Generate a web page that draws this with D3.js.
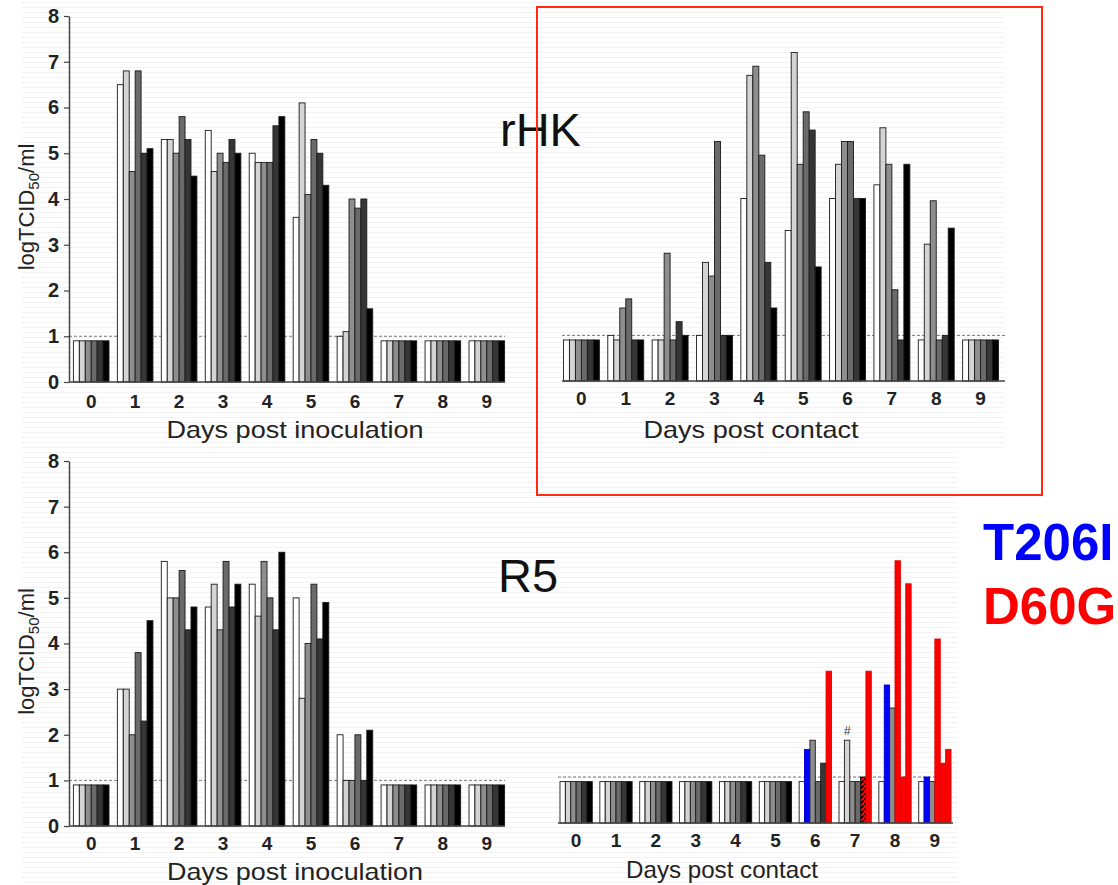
<!DOCTYPE html>
<html>
<head>
<meta charset="utf-8">
<script src="https://cdn.jsdelivr.net/npm/d3@7"></script>
<style>
  body { margin: 0; background: #fff; }
  text { font-family: "Liberation Sans", Arial, Helvetica, sans-serif; }
</style>
</head>
<body>
<script>
// ---- data (log TCID50/ml, 6 animals per day) ----
const days = ['0', '1', '2', '3', '4', '5', '6', '7', '8', '9'];
const yTicks = [0, 1, 2, 3, 4, 5, 6, 7, 8];

const rhkInoc = [
  [0.9, 0.9, 0.9, 0.9, 0.9, 0.9],
  [6.5, 6.8, 4.6, 6.8, 5.0, 5.1],
  [5.3, 5.3, 5.0, 5.8, 5.3, 4.5],
  [5.5, 4.6, 5.0, 4.8, 5.3, 5.0],
  [5.0, 4.8, 4.8, 4.8, 5.6, 5.8],
  [3.6, 6.1, 4.1, 5.3, 5.0, 4.3],
  [1.0, 1.1, 4.0, 3.8, 4.0, 1.6],
  [0.9, 0.9, 0.9, 0.9, 0.9, 0.9],
  [0.9, 0.9, 0.9, 0.9, 0.9, 0.9],
  [0.9, 0.9, 0.9, 0.9, 0.9, 0.9]
];

const rhkContact = [
  [0.9, 0.9, 0.9, 0.9, 0.9, 0.9],
  [1.0, 0.9, 1.6, 1.8, 0.9, 0.9],
  [0.9, 0.9, 2.8, 0.9, 1.3, 1.0],
  [1.0, 2.6, 2.3, 5.25, 1.0, 1.0],
  [4.0, 6.7, 6.9, 4.95, 2.6, 1.6],
  [3.3, 7.2, 4.75, 5.9, 5.5, 2.5],
  [4.0, 4.75, 5.25, 5.25, 4.0, 4.0],
  [4.3, 5.55, 4.75, 2.0, 0.9, 4.75],
  [0.9, 3.0, 3.95, 0.9, 1.0, 3.35],
  [0.9, 0.9, 0.9, 0.9, 0.9, 0.9]
];

const r5Inoc = [
  [0.9, 0.9, 0.9, 0.9, 0.9, 0.9],
  [3.0, 3.0, 2.0, 3.8, 2.3, 4.5],
  [5.8, 5.0, 5.0, 5.6, 4.3, 4.8],
  [4.8, 5.3, 4.3, 5.8, 4.8, 5.3],
  [5.3, 4.6, 5.8, 5.0, 4.3, 6.0],
  [5.0, 2.8, 4.0, 5.3, 4.1, 4.9],
  [2.0, 1.0, 1.0, 2.0, 1.0, 2.1],
  [0.9, 0.9, 0.9, 0.9, 0.9, 0.9],
  [0.9, 0.9, 0.9, 0.9, 0.9, 0.9],
  [0.9, 0.9, 0.9, 0.9, 0.9, 0.9]
];

const r5Contact = [
  [0.9, 0.9, 0.9, 0.9, 0.9, 0.9],
  [0.9, 0.9, 0.9, 0.9, 0.9, 0.9],
  [0.9, 0.9, 0.9, 0.9, 0.9, 0.9],
  [0.9, 0.9, 0.9, 0.9, 0.9, 0.9],
  [0.9, 0.9, 0.9, 0.9, 0.9, 0.9],
  [0.9, 0.9, 0.9, 0.9, 0.9, 0.9],
  [0.9, 1.6, 1.8, 0.9, 1.3, 3.3],
  [0.9, 1.8, 0.9, 0.9, 1.0, 3.3],
  [0.9, 3.0, 2.5, 5.7, 1.0, 5.2],
  [0.9, 1.0, 0.9, 4.0, 1.3, 1.6]
];

// mutation found in the contact animal (R5 only)
const r5Mutation = [
  [], [], [], [], [], [],
  [null, 'T206I', null, null, null, 'D60G'],
  [null, null, null, null, 'mix', 'D60G'],
  [null, 'T206I', null, 'D60G', 'D60G', 'D60G'],
  [null, 'T206I', null, 'D60G', 'D60G', 'D60G']
];
const r5Marks = [{ day: 7, animal: 1, label: '#' }];

// ---- styles ----
const animalFill = ['#ffffff', '#d4d4d4', '#8e8e8e', '#6a6a6a', '#363636', '#000000'];
const mutFill = { T206I: '#0000ff', D60G: '#ff0000', mix: 'url(#hatch)' };
const font = '"Liberation Sans", Arial, Helvetica, sans-serif';

const svg = d3.select('body').append('svg')
  .attr('width', 1118)
  .attr('height', 885);

const defs = svg.append('defs');
const hatch = defs.append('pattern')
  .attr('id', 'hatch')
  .attr('patternUnits', 'userSpaceOnUse')
  .attr('width', 5).attr('height', 5);
hatch.append('rect').attr('width', 5).attr('height', 5).attr('fill', '#ff0000');
hatch.append('path').attr('d', 'M0,5 L5,0').attr('stroke', '#000').attr('stroke-width', 1.6);

// faint scan stripes in the background
svg.append('g').selectAll('line')
  .data(d3.range(2, 885, 5)).enter()
  .append('line')
  .attr('x1', 22)
  .attr('x2', d => d < 450 ? 1005 : 958)
  .attr('y1', d => d + 0.5)
  .attr('y2', d => d + 0.5)
  .attr('stroke', '#f3f3f3')
  .attr('stroke-width', 1);

const panels = [
  { data: rhkInoc, xr: [69, 509], axisX: [69, 505], yr: [382, 16], yAxis: true,
    title: 'Days post inoculation', titleX: 295, titleY: 438, titleW: 257, tickDy: 26 },
  { data: rhkContact, xr: [559, 1003], axisX: [562, 1005], yr: [381, 16], yAxis: false,
    title: 'Days post contact', titleX: 751, titleY: 438, titleW: 215, tickDy: 24 },
  { data: r5Inoc, xr: [69, 509], axisX: [69, 505], yr: [826, 461], yAxis: true,
    title: 'Days post inoculation', titleX: 295, titleY: 880, titleW: 256, tickDy: 24 },
  { data: r5Contact, xr: [556, 955], axisX: [558, 953], yr: [823, 455], yAxis: false,
    title: 'Days post contact', titleX: 722, titleY: 878, titleW: 192, tickDy: 24,
    mutation: r5Mutation, marks: r5Marks }
];

panels.forEach(drawPanel);

function drawPanel(p) {
  const g = svg.append('g');
  const x = d3.scaleBand().domain(days).range(p.xr).paddingInner(0.19).paddingOuter(0.1);
  const xa = d3.scaleBand().domain(d3.range(6)).range([0, x.bandwidth()]);
  const y = d3.scaleLinear().domain([0, 8]).range(p.yr);

  // dashed detection limit
  g.append('line')
    .attr('x1', p.axisX[0]).attr('x2', p.axisX[1])
    .attr('y1', y(1)).attr('y2', y(1))
    .attr('stroke', '#777').attr('stroke-width', 1)
    .attr('stroke-dasharray', '3,2');

  const groups = g.selectAll('g.day')
    .data(p.data).enter()
    .append('g')
    .attr('transform', (d, i) => `translate(${x(days[i])},0)`);

  groups.each(function(vals, di) {
    d3.select(this).selectAll('rect')
      .data(vals).enter()
      .append('rect')
      .attr('x', (d, i) => xa(i))
      .attr('width', xa.bandwidth())
      .attr('y', d => y(d))
      .attr('height', d => y(0) - y(d))
      .attr('fill', (d, i) => {
        const m = p.mutation && p.mutation[di][i];
        return m ? mutFill[m] : animalFill[i];
      })
      .attr('stroke', (d, i) => {
        const m = p.mutation && p.mutation[di][i];
        if (m === 'T206I') return '#0000cc';
        if (m === 'D60G') return '#e00000';
        return '#1a1a1a';
      })
      .attr('stroke-width', 0.9);
  });

  if (p.marks) {
    g.selectAll('text.mark')
      .data(p.marks).enter()
      .append('text')
      .attr('x', d => x(days[d.day]) + xa(d.animal) + xa.bandwidth() / 2)
      .attr('y', d => y(p.data[d.day][d.animal]) - 5)
      .attr('text-anchor', 'middle')
      .attr('font-size', 12)
      .attr('font-style', 'italic')
      .attr('fill', '#333')
      .text(d => d.label);
  }

  // x axis
  g.append('line')
    .attr('x1', p.axisX[0]).attr('x2', p.axisX[1])
    .attr('y1', y(0)).attr('y2', y(0))
    .attr('stroke', '#444').attr('stroke-width', 1.5);

  const xAxis = g.append('g')
    .attr('transform', `translate(0,${y(0)})`)
    .call(d3.axisBottom(x).tickSize(0).tickPadding(0));
  xAxis.select('.domain').remove();
  xAxis.selectAll('text')
    .attr('y', p.tickDy).attr('dy', 0)
    .attr('font-family', font)
    .attr('font-size', 19)
    .attr('font-weight', 'bold')
    .attr('fill', '#222');

  g.append('text')
    .attr('x', p.titleX).attr('y', p.titleY)
    .attr('text-anchor', 'middle')
    .attr('font-size', 24)
    .attr('fill', '#222')
    .attr('textLength', p.titleW)
    .attr('lengthAdjust', 'spacingAndGlyphs')
    .text(p.title);

  if (p.yAxis) {
    const yAxis = g.append('g')
      .attr('transform', `translate(${p.xr[0]},0)`)
      .call(d3.axisLeft(y).tickValues(yTicks).tickSize(5).tickPadding(5).tickSizeOuter(0));
    yAxis.select('.domain').attr('stroke', '#444').attr('stroke-width', 1.5);
    yAxis.selectAll('.tick line').attr('stroke', '#444').attr('stroke-width', 1.2);
    yAxis.selectAll('text')
      .attr('font-family', font)
      .attr('font-size', 20)
      .attr('font-weight', 'bold')
      .attr('fill', '#222');

    const yt = g.append('text')
      .attr('transform', `translate(34,${(p.yr[0] + p.yr[1]) / 2 + 8}) rotate(-90)`)
      .attr('text-anchor', 'middle')
      .attr('font-size', 22)
      .attr('fill', '#222');
    yt.append('tspan').text('logTCID');
    yt.append('tspan').attr('font-size', 15).attr('dy', 5).text('50');
    yt.append('tspan').attr('dy', -5).text('/ml');
  }
}

// strain labels
svg.append('text').attr('x', 500).attr('y', 146)
  .attr('font-size', 47).attr('fill', '#111').text('rHK');
svg.append('text').attr('x', 498).attr('y', 592)
  .attr('font-size', 47).attr('fill', '#111').text('R5');

svg.append('text').attr('x', 983).attr('y', 560)
  .attr('font-size', 51).attr('font-weight', 'bold').attr('fill', '#0000ff').text('T206I');
svg.append('text').attr('x', 983).attr('y', 624)
  .attr('font-size', 51).attr('font-weight', 'bold').attr('fill', '#ff0000').text('D60G');

// red highlight box around rHK contact panel
svg.append('rect')
  .attr('x', 537).attr('y', 7)
  .attr('width', 505).attr('height', 488)
  .attr('fill', 'none')
  .attr('stroke', '#ff2a12')
  .attr('stroke-width', 2);
</script>
</body>
</html>
